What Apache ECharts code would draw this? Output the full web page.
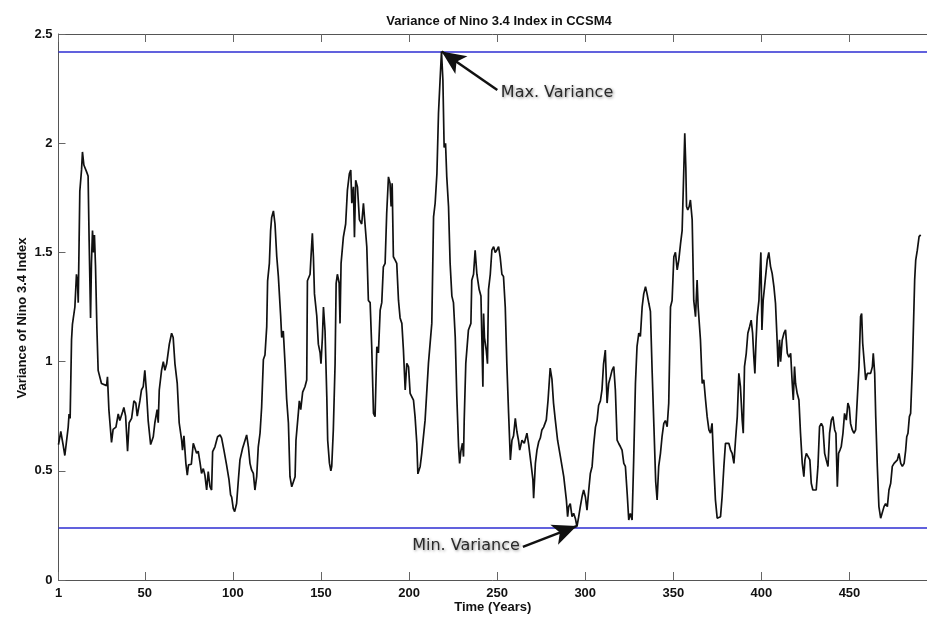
<!DOCTYPE html>
<html>
<head>
<meta charset="utf-8">
<script src="https://cdn.jsdelivr.net/npm/echarts@6/dist/echarts.min.js"></script>
<style>
html,body{margin:0;padding:0;background:#fff;}
#chart{width:927px;height:619px;}
</style>
</head>
<body>
<div id="chart"></div>
<script>
// ---- data ----
const years = [
1,2.3,3.6,4.6,5.5,6.5,7,7.6,8.4,8.9,10.3,11.2,11.8,12.2,12.7,13.1,14.1,14.6,15.4,16.9,17.8,18.4,19.2,19.7,20.3,20.9,21.4,22,22.8,23.5,25.4,28.3,28.8,29.6,30.2,31.1,32,33.6,34.9,35.8,37.4,38.1,39.1,40.2,41.1,42.5,43.8,44.9,45.7,47.2,48.1,49.1,50,51,51.9,53.3,54.8,55.7,57,57.6,58.2,59.5,60.5,61.4,62.4,63.9,65.2,66.1,67.1,68.4,69.5,70.9,71.4,72.2,73.3,74.1,74.8,76.4,77.5,78.4,79.4,80.3,81.3,82.2,83.2,84.1,85.1,86,87,87.9,88.5,89.8,91.3,92.7,93.6,94.9,96.4,97.8,98.7,99.3,100.2,101,102.1,103.1,104,105.5,106.9,107.8,108.8,109.7,110.6,111.6,112.5,113.5,114.4,115.4,116.3,117.3,118.2,119.2,119.7,120.7,121.4,122,123,123.9,124.9,125.8,127.1,127.7,128.6,129.6,130.5,131.5,132.4,133.4,134.3,135.3,135.8,137.2,137.7,138.5,139.6,140.9,141.9,142.3,143.8,144.4,145.1,145.7,146.3,147.6,148.5,149.5,150,150.8,151.4,152.3,153.3,153.8,154.8,155.6,156.1,157,158,158.6,159.3,160.3,160.8,161.4,162.7,164,165,166.1,166.9,167.5,168.4,169,169.7,170.7,171.8,173.1,174.1,174.7,176,176.9,177.9,178.8,179.8,180.7,181.7,182.6,183.6,184.5,185.4,186.4,187.3,188.3,189.2,189.8,190.4,191.1,192.1,193,194,194.9,195.9,196.8,197.8,198.7,199.7,200.6,202.5,203.4,204.4,205,206.3,207.2,209.1,211,212.9,213.9,214.8,215.8,216.7,217.6,218.4,219.2,219.9,220.7,221.4,222.4,223.3,224.3,225.2,226.2,227.1,228.1,228.7,229.4,230.3,230.9,231.3,232.2,233.7,235.1,235.6,236.6,237.5,238.5,239.8,240.8,241.3,241.9,242.3,242.8,243.8,244.5,245.1,246.1,247,248,248.9,249.8,250.8,251.7,252.7,253.6,254.6,255.5,256.5,257.5,258.4,259.3,260.3,261.2,262.1,262.8,264.1,265.4,266.9,267.9,269.2,270.3,270.7,271.7,272.6,273.6,274.5,275.4,276.4,277.9,278.9,280.1,281.1,282,283,284.3,285.9,287.8,289.3,290,290.6,291.5,292.5,293.4,294.4,295.3,296.3,297.2,298.2,299.1,300.1,301,302,302.9,303.9,304.8,305.8,306.7,307.6,308.6,309.5,310.4,311.4,312.4,313.3,314.3,315.2,316.2,317.1,318.1,319,320,320.9,321.9,322.8,323.8,324.7,325.6,326.6,327.5,328.5,329.4,330.4,331.3,332.3,333.2,334.2,335.1,336.1,337,338,339,340,340.8,341.7,342.7,343.6,344.6,345.5,346.5,347.4,348.4,349.3,350.3,351.2,352.2,353.1,354.1,355,356,356.5,357.1,357.5,358.2,359,359.7,360.7,361.6,362.6,363.5,364.1,365.4,366.4,367.3,368.3,369.2,370.2,371.1,372,373,373.9,374.9,375.8,376.8,377.7,378.7,379.6,381.5,382.5,383.4,384.4,385.3,386.3,387.2,388.1,389.1,389.7,390.4,391.4,392.3,393.3,394.2,395,395.7,396.3,396.9,397.6,398.6,399.1,399.7,400.3,401,401.8,403.3,404.2,405.2,406.1,407.1,408,409,409.5,410.3,410.9,411.8,412.8,413.7,414.7,415.6,416.6,417.5,418.1,418.8,419.4,420.3,421.3,422.2,423.2,424.1,424.7,425.5,426.4,427.5,428.3,429.2,430.2,431.1,432.1,433,434,434.9,435.9,436.8,437.8,438.7,439.7,440.6,441.6,442.3,443.1,443.8,444.6,445.3,446.3,447.2,448.2,449.1,449.9,450.6,451.6,452.5,453.5,454.4,455.4,456.3,456.9,457.5,458.2,459.2,460.1,462,463,463.5,464.3,464.9,465.8,466.7,467.7,468.6,469.6,470.5,471.5,472.4,473.4,474.3,475.3,476.2,477.2,478.1,479.1,480,481,481.9,482.5,483.2,484,484.7,485.7,486.3,487,487.6,488.5,489.5,490.4
];
const variance = [
0.62,0.68,0.62,0.57,0.57,0.70,0.76,0.74,1.10,1.17,1.25,1.40,1.36,1.27,1.55,1.78,1.88,1.96,1.90,1.87,1.85,1.55,1.20,1.45,1.60,1.50,1.58,1.44,1.15,0.96,0.90,0.89,0.93,0.78,0.72,0.63,0.69,0.70,0.76,0.73,0.77,0.79,0.75,0.59,0.72,0.74,0.82,0.81,0.75,0.82,0.87,0.885,0.96,0.855,0.73,0.62,0.656,0.72,0.78,0.72,0.87,0.96,1.0,0.96,0.99,1.08,1.13,1.11,0.99,0.90,0.72,0.64,0.595,0.66,0.534,0.48,0.527,0.53,0.626,0.634,0.58,0.59,0.54,0.488,0.51,0.48,0.412,0.496,0.427,0.412,0.588,0.61,0.656,0.664,0.65,0.595,0.527,0.458,0.39,0.38,0.328,0.313,0.35,0.458,0.55,0.603,0.64,0.664,0.61,0.534,0.504,0.488,0.412,0.473,0.61,0.672,0.79,1.01,1.03,1.16,1.37,1.45,1.60,1.66,1.69,1.63,1.48,1.39,1.21,1.11,1.14,0.99,0.83,0.72,0.473,0.427,0.42,0.473,0.64,0.77,0.82,0.78,0.86,0.885,0.916,1.37,1.40,1.49,1.587,1.48,1.31,1.21,1.08,1.04,0.99,1.11,1.25,1.14,0.84,0.64,0.535,0.50,0.52,0.687,0.99,1.358,1.40,1.36,1.175,1.45,1.57,1.63,1.785,1.86,1.877,1.725,1.80,1.57,1.83,1.80,1.65,1.63,1.725,1.66,1.526,1.28,1.27,1.068,0.763,0.748,1.068,1.04,1.236,1.27,1.434,1.45,1.679,1.846,1.816,1.71,1.816,1.48,1.465,1.45,1.28,1.20,1.175,1.053,0.87,0.992,0.976,0.855,0.824,0.748,0.626,0.486,0.52,0.58,0.732,0.992,1.175,1.663,1.725,1.86,2.137,2.289,2.42,2.289,1.98,2.0,1.846,1.71,1.45,1.30,1.27,1.114,0.84,0.61,0.534,0.59,0.626,0.565,0.732,0.992,1.145,1.175,1.373,1.40,1.51,1.40,1.33,1.30,1.114,0.885,1.22,1.11,1.053,0.99,1.33,1.40,1.51,1.526,1.50,1.51,1.526,1.48,1.40,1.39,1.25,0.99,0.763,0.55,0.64,0.66,0.74,0.68,0.64,0.595,0.64,0.626,0.672,0.62,0.534,0.458,0.374,0.534,0.595,0.633,0.65,0.687,0.70,0.733,0.824,0.97,0.92,0.81,0.733,0.64,0.565,0.473,0.366,0.29,0.336,0.35,0.29,0.305,0.282,0.245,0.29,0.336,0.382,0.412,0.38,0.32,0.412,0.488,0.52,0.62,0.70,0.73,0.80,0.82,0.87,0.99,1.053,0.81,0.90,0.93,0.96,0.977,0.87,0.64,0.625,0.61,0.595,0.534,0.52,0.397,0.275,0.305,0.275,0.55,0.90,1.07,1.13,1.115,1.25,1.31,1.343,1.31,1.267,1.23,0.95,0.70,0.45,0.367,0.52,0.58,0.656,0.717,0.73,0.702,0.81,1.25,1.28,1.48,1.50,1.42,1.465,1.54,1.60,1.893,2.045,1.89,1.71,1.694,1.71,1.74,1.65,1.28,1.206,1.374,1.25,1.10,0.90,0.916,0.824,0.748,0.687,0.672,0.717,0.52,0.367,0.283,0.275,0.29,0.382,0.52,0.626,0.626,0.595,0.58,0.534,0.64,0.748,0.946,0.885,0.732,0.672,0.977,1.038,1.13,1.16,1.19,1.13,1.02,0.946,1.084,1.206,1.28,1.39,1.50,1.145,1.28,1.343,1.465,1.50,1.435,1.404,1.343,1.267,1.084,0.977,1.10,1.0,1.099,1.13,1.145,1.038,1.02,1.038,0.90,0.824,0.977,0.90,0.855,0.824,0.672,0.534,0.473,0.55,0.58,0.58,0.55,0.443,0.412,0.412,0.412,0.52,0.702,0.717,0.702,0.58,0.55,0.52,0.672,0.732,0.748,0.687,0.672,0.427,0.58,0.595,0.61,0.672,0.763,0.732,0.81,0.79,0.717,0.687,0.672,0.687,0.824,0.977,1.206,1.22,1.084,1.084,0.916,0.946,0.946,0.977,1.038,0.946,0.748,0.52,0.336,0.283,0.29,0.336,0.35,0.336,0.412,0.443,0.52,0.534,0.54,0.55,0.58,0.534,0.52,0.534,0.595,0.656,0.672,0.748,0.763,0.977,1.16,1.374,1.465,1.51,1.572,1.58
];
const xTickValues = [1, 50, 100, 150, 200, 250, 300, 350, 400, 450];
const yTickValues = [0, 0.5, 1, 1.5, 2, 2.5];
const maxVariance = 2.42;
const minVariance = 0.245;
const titleText = 'Variance of Nino 3.4 Index in CCSM4';
const xName = 'Time (Years)';
const yName = 'Variance of Nino 3.4 Index';
// annotation anchors, in data coordinates: [text anchor], [arrow start], [arrow tip]
const maxNote = { text: 'Max. Variance', label: [252.1, 2.232], from: [250.1, 2.244], to: [218.5, 2.42] };
const minNote = { text: 'Min. Variance', label: [262.9, 0.156], from: [264.6, 0.152], to: [295.1, 0.247] };

const seriesData = years.map((y, i) => [y, variance[i]]);

const chart = echarts.init(document.getElementById('chart'), null, { renderer: 'canvas' });
const fontStack = "'Liberation Sans', Arial, Helvetica, sans-serif";
const axisFont = { fontFamily: fontStack, fontWeight: 'bold', fontSize: 13, color: '#111' };
const noteLabel = {
  show: true,
  fontFamily: "'DejaVu Sans', Verdana, sans-serif",
  fontSize: 16,
  color: '#2a2a2a',
  textShadowColor: 'rgba(0,0,0,0.45)',
  textShadowBlur: 3,
  textShadowOffsetX: 1,
  textShadowOffsetY: 1,
  distance: 0
};

chart.setOption({
  animation: false,
  backgroundColor: '#fff',
  title: {
    text: titleText,
    left: 494,
    top: 10,
    textAlign: 'center',
    textStyle: { fontFamily: fontStack, fontWeight: 'bold', fontSize: 13, color: '#111' }
  },
  graphic: [{
    type: 'text',
    x: 22,
    y: 318,
    rotation: Math.PI / 2,
    style: {
      text: yName,
      align: 'center',
      verticalAlign: 'middle',
      font: "bold 13px 'Liberation Sans', Arial, sans-serif",
      fill: '#111'
    }
  }],
  grid: { left: 58.5, right: 0, top: 34, bottom: 39, containLabel: false, outerBoundsMode: 'none' },
  xAxis: [{
    type: 'value', min: 1, max: 494, position: 'bottom',
    name: xName, nameLocation: 'middle', nameGap: 21, nameMoveOverlap: false,
    nameTextStyle: { ...axisFont, verticalAlign: 'top' },
    axisLine: { show: true, lineStyle: { color: '#555', width: 1 } },
    axisTick: { show: true, inside: true, length: 8, customValues: xTickValues, lineStyle: { color: '#666' } },
    axisLabel: { show: true, customValues: xTickValues, margin: 7, ...axisFont },
    splitLine: { show: false }
  }, {
    type: 'value', min: 1, max: 494, position: 'top',
    axisLine: { show: true, onZero: false, lineStyle: { color: '#555', width: 1 } },
    axisTick: { show: true, inside: true, length: 8, customValues: xTickValues, lineStyle: { color: '#666' } },
    axisLabel: { show: false },
    splitLine: { show: false }
  }],
  yAxis: {
    type: 'value', min: 0, max: 2.5, interval: 0.5,
    axisLine: { show: true, lineStyle: { color: '#555', width: 1 } },
    axisTick: { show: true, inside: true, length: 7, lineStyle: { color: '#666' } },
    axisLabel: { show: true, margin: 6, ...axisFont, formatter: v => (yTickValues.includes(v) ? String(v) : '') },
    splitLine: { show: false }
  },
  series: [{
    type: 'line',
    data: seriesData,
    showSymbol: false,
    symbol: 'none',
    lineStyle: { color: '#111', width: 1.7 },
    z: 3,
    markLine: {
      silent: true,
      symbol: ['none', 'none'],
      label: { show: false },
      lineStyle: { color: '#2d2dd2', width: 1.6, type: 'solid' },
      data: [{ yAxis: maxVariance }, { yAxis: minVariance }],
      z: 2
    }
  }, {
    type: 'line',
    data: [],
    z: 5,
    markLine: {
      silent: true,
      symbol: ['none', 'arrow'],
      symbolSize: [16, 24],
      label: { show: false },
      lineStyle: { color: '#111', width: 2.5, type: 'solid' },
      itemStyle: { color: '#111' },
      data: [
        [{ coord: maxNote.from }, { coord: maxNote.to }],
        [{ coord: minNote.from }, { coord: minNote.to }]
      ]
    },
    markPoint: {
      silent: true,
      symbol: 'circle',
      symbolSize: 0,
      data: [
        { coord: maxNote.label, label: { ...noteLabel, position: 'right', formatter: maxNote.text } },
        { coord: minNote.label, label: { ...noteLabel, position: 'left', formatter: minNote.text } }
      ]
    }
  }]
});
</script>
</body>
</html>
